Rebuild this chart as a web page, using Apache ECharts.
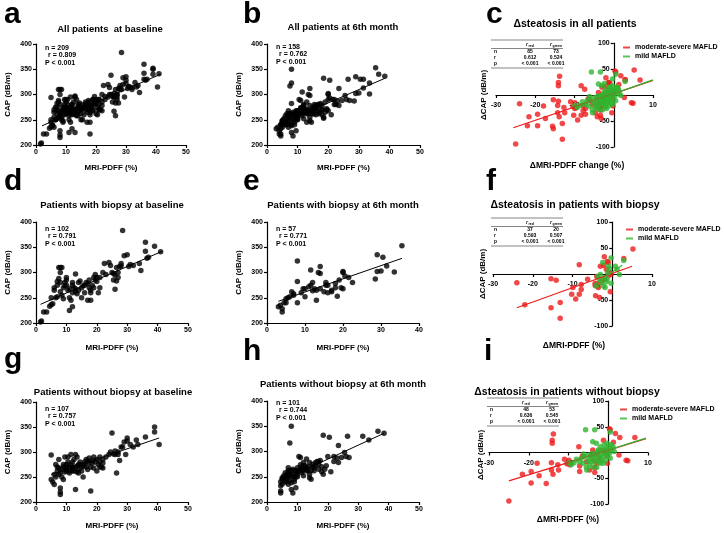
<!DOCTYPE html>
<html><head><meta charset="utf-8">
<script src="https://cdn.jsdelivr.net/npm/echarts@6/dist/echarts.min.js"></script>
<style>html,body{margin:0;padding:0;background:#fff}#chart{width:724px;height:533px}</style>
</head><body><div id="chart"></div>
<script>
// ---------- DATA (x = MRI-PDFF %, y = CAP dB/m) ----------
// Patients with biopsy at baseline (d)
const biopsyBaseline = [[1.5,202],[1.8,204],[2.5,222],[3.5,222],[4.5,233],[5,236],[5.5,238],[5,250],[6,265],[6.5,250],[7,252],[7,275],[7,282],[7.5,288],[7.5,310],[8,310],[8.5,310],[8,300],[8,262],[8.5,255],[9,248],[9,270],[9.5,280],[10,290],[10,285],[10.5,265],[11,225],[11,250],[11.5,245],[12,232],[12,260],[12,275],[12.5,270],[13,262],[13,297],[13.5,258],[14,265],[14,280],[15,270],[15,250],[16,275],[16,260],[16.5,280],[17,245],[17.5,270],[17.5,285],[18,245],[18,260],[18.5,275],[19,270],[19,290],[19.5,285],[20,290],[20,282],[20.5,260],[21,270],[21,290],[22,300],[22.5,318],[24,320],[25,300],[25.5,285],[26,267],[26,295],[26.5,310],[27,300],[27,290],[27.5,312],[28,318],[28.5,383],[29,333],[30,335],[30.5,312],[31,316],[34,318],[34.5,304],[36,360],[36,342],[36.5,328],[37,330],[39,352],[41,341],[26.5,283],[25.5,298],[28,313],[18,265],[15.5,274],[13,268],[11,268],[9.5,274],[8,280],[6,270],[10,275],[12,280],[14.5,283],[17,278],[19.5,296],[23,296],[24.5,314],[32,314]];
// Patients without biopsy at baseline (g)
const noBiopsyBaseline = [[5,294],[5,245],[5.5,240],[6,235],[6,255],[6.5,250],[7,262],[7,270],[7.5,285],[7.5,255],[8,220],[8,215],[8,228],[8.5,250],[8.5,265],[9,245],[9,275],[9.5,260],[9.5,290],[10,265],[10,270],[10.5,280],[10.5,290],[11,258],[11,270],[11.5,275],[11.5,295],[12,262],[12,268],[12,280],[12.5,285],[13,225],[13,295],[13,270],[13.5,260],[13.5,290],[14,275],[14,265],[14.5,280],[15,270],[15,262],[15.5,250],[16,275],[16,280],[16.5,285],[17,265],[17,282],[17.5,288],[18,222],[18,270],[18.5,278],[19,268],[19,290],[19.5,280],[20,262],[20,285],[20.5,275],[21,290],[21,280],[21.5,270],[22,278],[22,285],[23,290],[24,295],[24.5,300],[25,338],[25.5,296],[26,295],[26,302],[26.5,258],[27,300],[27,295],[27.5,283],[28,310],[28.5,310],[29,320],[29.5,295],[30,328],[30,322],[31,315],[32,310],[33,324],[33.5,315],[36,330],[39,350],[39,340],[40.5,315],[7.5,268],[9,270],[10,275],[11,262],[12,270],[13.5,272],[14.5,275],[15.5,272],[16.5,270],[17.5,278],[18.5,283],[6.5,275],[8,258],[10,262],[12.5,262],[14,258],[21,270],[22,268]];
// Patients with biopsy at 6th month (e)
const biopsyMonth6 = [[3,232],[3.5,235],[4,222],[4,228],[4.5,240],[5,248],[5,240],[5.5,250],[6,252],[7,258],[7,255],[8,240],[8,282],[8,323],[9,260],[9.5,268],[10,252],[10,268],[11,272],[11.5,305],[11.5,275],[12,280],[12.5,268],[13,245],[13,265],[13.5,300],[14,312],[14,298],[14,268],[15,262],[15.5,280],[15.5,275],[16,275],[16,260],[17,265],[18,270],[18,278],[18.5,253],[19,285],[19.5,270],[20,300],[20,302],[20,268],[20.5,293],[21.5,290],[22.5,280],[28.5,287],[29,335],[29,302],[30,303],[30.5,330],[31.5,313],[33.5,301],[35.5,353],[12,264],[17,262],[6.5,262]];
// Patients without biopsy at 6th month (h)
const noBiopsyMonth6 = [[4.5,240],[4.5,232],[4.5,222],[4.5,218],[5,245],[5,235],[5.5,248],[5.5,252],[6,240],[6,245],[6.5,250],[6.5,255],[7,255],[7,262],[7,248],[7,268],[7.5,242],[7.5,317],[7.5,258],[8,350],[8,238],[8,225],[8,262],[8.5,265],[8.5,218],[9,245],[9,255],[9.5,250],[9.5,228],[10,260],[10,268],[10,255],[10.5,290],[11,288],[11,265],[11.5,270],[11.5,258],[12,272],[12,278],[12,252],[12.5,265],[13,262],[13,285],[13.5,270],[14,255],[14,248],[14.5,245],[14.5,262],[15,270],[15,275],[15.5,268],[16,278],[16.5,280],[17,275],[17,265],[17.5,282],[18,260],[18,270],[18.5,332],[18.5,255],[19,265],[19.5,272],[20,290],[20.5,328],[21,260],[22,290],[22,280],[23,287],[23.5,312],[23.5,278],[24.5,288],[25.5,298],[26,290],[26.5,330],[27,288],[31.5,330],[33.5,323],[36.5,340],[38.5,336],[6,258],[7.5,262],[8.5,250],[9,262],[9.5,262],[10.5,262],[11,274],[12.5,272],[13.5,262],[14,278],[15.5,262],[16,272],[17,280],[5,248],[6.5,240],[7,235],[8,252],[11.5,262],[12,266],[13,268],[10,250],[9,240]];
// Δ values (x = ΔMRI-PDFF %, y = ΔCAP dB/m)
const biopsyDeltaRed = [[-24,-17],[-22,-59],[-15.4,-9],[-15.4,-65],[-14.1,-12],[-13.1,-55],[-13.1,-85],[-8.3,18],[-9.9,-26],[-10.2,-39],[-9.2,-48],[-8.3,-39],[-7.8,-30],[-7.8,-20],[-6.2,-10],[-4.3,-18],[-4.3,-22],[-4.2,-42],[-3.7,-23],[-3.5,-26],[-3.2,-45],[-3.4,-18],[-3,15],[-2,33],[-2.2,17],[-1.3,24],[-1,22],[-1.5,9],[-0.5,-34],[-0.3,0],[2.9,30],[5.2,48],[-1.9,-10],[-2.6,-13],[-0.7,3],[-3.9,-5],[-0.9,-3]];
const biopsyDeltaGreen = [[-4,-23],[-3.7,-5],[-3.2,-10],[-3,-1],[-2.7,-17],[-2.4,22],[-2.2,-23],[-2,-7],[-1.8,-26],[-1.5,-15],[-1.2,3],[-0.9,15],[-0.7,10],[-0.3,31],[0.8,15],[1.2,9],[1.8,-1],[2.9,26],[-1.3,-10],[-0.3,-18]];
const noBiopsyDeltaRed = [[-25,-94],[-21.6,-42],[-19.4,-37],[-19.4,-59],[-17.9,-21],[-17.4,-45],[-15.6,-60],[-14.3,-20],[-14.3,-34],[-13.9,-42],[-13.8,36],[-14.1,24],[-14.1,18],[-12.7,-24],[-12.5,-34],[-11,-13],[-10.4,-22],[-9.9,-15],[-9.7,-24],[-7.4,11],[-7.2,-26],[-7.2,-37],[-6.5,-7],[-4.3,-6],[-3.9,5],[-3.7,-15],[-3.4,-29],[-3.4,-39],[-2.9,-21],[-2.3,-11],[-2,4],[-1.2,24],[-0.5,2],[-0.3,-7],[-0.2,-21],[0.3,46],[0.5,44],[1.3,20],[1.8,37],[2.7,-5],[2.9,29],[4.5,-15],[4.9,-16],[6.7,29],[-4.7,-34],[-5.5,-18],[-0.9,5],[-2.9,-3]];
const noBiopsyDeltaGreen = [[-5.7,44],[-3.4,44],[-3.9,21],[-3,18],[0.5,40],[-8.6,-20],[-8,-13],[-6.8,-11],[-6.4,-21],[-6,-8],[-5.5,-28],[-5.4,-34],[-5.1,-16],[-4.9,-5],[-4.7,-24],[-4.5,-11],[-4.3,-18],[-4,-2],[-3.9,-28],[-3.7,-8],[-3.4,-18],[-3.2,-3],[-3,-11],[-2.9,-29],[-2.6,2],[-2.3,-8],[-2.2,-18],[-2,11],[-1.8,-3],[-1.6,-13],[-1.3,5],[-1.2,-7],[-1,15],[-0.8,-16],[-0.7,-2],[-0.5,8],[-0.3,18],[-0.2,-8],[0,4],[0.2,11],[0.3,-2],[0.7,15],[0.9,6],[1.2,11],[1.5,2],[-9.9,-20],[-9.3,-24],[-7.2,-18],[-6.2,-3],[-2,-21],[-2.5,5],[0.5,-11],[-1.3,-21]];
// Regression line endpoints
const fitA = [[2,238],[41.5,340]];
const fitB = [[3.5,240],[38.5,332]];
const fitD = [[1.5,237],[41.5,342]];
const fitE = [[3,243],[35.5,328]];
const fitG = [[5,255],[40.5,328]];
const fitH = [[4.5,242],[38.5,336]];
const fitCRed = [[-25.6,-63],[10,28]];
const fitCGreen = [[-10,-24],[10,29]];
const fitFRed = [[-24,-65],[5,15]];
const fitFGreen = [[-4.5,-20],[2.5,17]];
const fitIRed = [[-25,-55],[9.5,27]];
const fitIGreen = [[-10,-20],[9.5,28]];
// Texts
const letters = ['a','b','c','d','e','f','g','h','i'];
const titles = ['All patients  at baseline','All patients at 6th month','\u0394steatosis in all patients','Patients with biopsy at baseline','Patients with biopsy at 6th month','\u0394steatosis in patients with biopsy','Patients without biopsy at baseline','Patients without biopsy at 6th month','\u0394steatosis in patients without biopsy'];
const statN = {a:209,b:158,d:102,e:57,g:107,h:101};
const statR = {a:'0.809',b:'0.762',d:'0.791',e:'0.771',g:'0.757',h:'0.744'};
const tableN = {c:[85,73],f:[37,20],i:[48,53]};
const tableR = {c:['0.612','0.524'],f:['0.593','0.507'],i:['0.636','0.545']};
const tableP = ['< 0.001','< 0.001'];
const legendNames = ['moderate-severe MAFLD','mild MAFLD'];

// ---------- derived sets ----------
const allBaseline = biopsyBaseline.concat(noBiopsyBaseline);
const allMonth6 = biopsyMonth6.concat(noBiopsyMonth6);
const allDeltaRed = biopsyDeltaRed.concat(noBiopsyDeltaRed);
const allDeltaGreen = biopsyDeltaGreen.concat(noBiopsyDeltaGreen);

// ---------- layout ----------
const FONT = '"Liberation Sans", Arial, Helvetica, sans-serif';
const RED = '#ee1c1c', GREEN = '#2fb52f';
const L = {
  a:{grid:{left:36,top:44,width:150,height:101},xmax:50,xGap:19},
  b:{grid:{left:267,top:44,width:153,height:101},xmax:50,xGap:19},
  c:{grid:{left:496,top:43,width:157,height:104}},
  d:{grid:{left:36,top:222,width:152,height:101},xmax:50,xGap:21},
  e:{grid:{left:267,top:222,width:152,height:101},xmax:40,xGap:21},
  f:{grid:{left:493,top:222,width:159,height:104}},
  g:{grid:{left:36,top:402,width:152,height:100},xmax:50,xGap:20},
  h:{grid:{left:267,top:401,width:152,height:101},xmax:50,xGap:20},
  i:{grid:{left:489,top:401,width:159,height:103}}
};
const order = ['a','b','c','d','e','f','g','h','i'];
const scatterSets = {a:allBaseline,b:allMonth6,d:biopsyBaseline,e:biopsyMonth6,g:noBiopsyBaseline,h:noBiopsyMonth6};
const fits = {a:fitA,b:fitB,d:fitD,e:fitE,g:fitG,h:fitH};
const deltaSets = {c:[allDeltaRed,allDeltaGreen,fitCRed,fitCGreen],f:[biopsyDeltaRed,biopsyDeltaGreen,fitFRed,fitFGreen],i:[noBiopsyDeltaRed,noBiopsyDeltaGreen,fitIRed,fitIGreen]};
const DX = [-30,10], DY = [-100,100];

const axisLine = {lineStyle:{color:'#000',width:1.2}};
const axisTick = {length:3,lineStyle:{color:'#000',width:1.2}};
const labelStyle = {color:'#000',fontSize:7,fontWeight:'bold',fontFamily:FONT};

const grid=[],xAxis=[],yAxis=[],series=[],graphic=[];
function txt(x,y,text,size,align,extra){
  return Object.assign({type:'text',x:x,y:y,silent:true,style:{text:text,fill:'#000',fontSize:size,fontWeight:'bold',fontFamily:FONT,
    textAlign:align||'left',textVerticalAlign:'middle',align:align||'left',verticalAlign:'middle'}},extra||{});
}
order.forEach((k,idx)=>{
  const lay = L[k];
  grid.push(Object.assign({containLabel:false},lay.grid));
  const isDelta = !!deltaSets[k];
  if(!isDelta){
    xAxis.push({type:'value',gridIndex:idx,min:0,max:lay.xmax,interval:10,splitLine:{show:false},axisLine:axisLine,axisTick:axisTick,
      axisLabel:Object.assign({margin:4},labelStyle),name:'MRI-PDFF (%)',nameLocation:'middle',nameGap:lay.xGap,
      nameTextStyle:{color:'#000',fontSize:8,fontWeight:'bold',fontFamily:FONT}});
    yAxis.push({type:'value',gridIndex:idx,min:200,max:400,interval:50,splitLine:{show:false},axisLine:axisLine,axisTick:axisTick,
      axisLabel:Object.assign({margin:4},labelStyle),name:'CAP (dB/m)',nameLocation:'middle',nameGap:24,
      nameTextStyle:{color:'#000',fontSize:8,fontWeight:'bold',fontFamily:FONT}});
    series.push({type:'scatter',xAxisIndex:idx,yAxisIndex:idx,data:scatterSets[k],symbolSize:5.5,itemStyle:{color:'#000'},silent:true});
    series.push({type:'line',xAxisIndex:idx,yAxisIndex:idx,data:fits[k],symbol:'none',lineStyle:{color:'#000',width:1},silent:true});
  } else {
    // place the axes through zero by offsetting them inward from the grid edges
    const xOff = -lay.grid.height*(0-DY[0])/(DY[1]-DY[0]);
    const yOff = -lay.grid.width*(0-DX[0])/(DX[1]-DX[0]);
    xAxis.push({type:'value',gridIndex:idx,min:DX[0],max:DX[1],interval:10,position:'bottom',offset:xOff,splitLine:{show:false},
      axisLine:Object.assign({onZero:false},axisLine),axisTick:axisTick,
      axisLabel:Object.assign({margin:7,formatter:v=>v===0?'':String(v)},labelStyle)});
    yAxis.push({type:'value',gridIndex:idx,min:DY[0],max:DY[1],interval:50,position:'left',offset:yOff,splitLine:{show:false},
      axisLine:Object.assign({onZero:false},axisLine),axisTick:axisTick,
      axisLabel:Object.assign({margin:4,formatter:v=>v===0?'':String(v)},labelStyle)});
    const ds = deltaSets[k];
    series.push({type:'scatter',name:legendNames[0],xAxisIndex:idx,yAxisIndex:idx,data:ds[0],symbolSize:5.5,itemStyle:{color:RED},silent:true});
    series.push({type:'scatter',name:legendNames[1],xAxisIndex:idx,yAxisIndex:idx,data:ds[1],symbolSize:5.5,itemStyle:{color:GREEN},silent:true});
    series.push({type:'line',xAxisIndex:idx,yAxisIndex:idx,data:ds[2],symbol:'none',lineStyle:{color:RED,width:1.2},silent:true});
    series.push({type:'line',xAxisIndex:idx,yAxisIndex:idx,data:ds[3],symbol:'none',lineStyle:{color:GREEN,width:1.2},silent:true});
  }
});

// panel letters
const letterPos = {a:[4,15],b:[243,15],c:[486,15],d:[4,182],e:[243,182],f:[486,182],g:[4,360],h:[243,352],i:[484,352]};
order.forEach(k=>graphic.push(txt(letterPos[k][0],letterPos[k][1],k,30,'left')));
// titles
const titlePos = {a:[110,29],b:[343,27],c:[575,24],d:[112,205],e:[343,205],f:[575,205],g:[113,392],h:[343,384],i:[567,392]};
order.forEach((k,i)=>graphic.push(txt(titlePos[k][0],titlePos[k][1],titles[i],k==='c'||k==='f'||k==='i'?10.5:9.5,'center')));
// stats
const statPos = {a:[45,48],b:[276,47],d:[45,229],e:[276,229],g:[45,409],h:[276,403]};
Object.keys(statPos).forEach(k=>{
  const [x,y]=statPos[k];
  graphic.push(txt(x,y,'n = '+statN[k],7,'left'));
  graphic.push(txt(x+3,y+7.5,'r = '+statR[k],7,'left'));
  graphic.push(txt(x,y+15,'P < 0.001',7,'left'));
});
// delta axis labels
graphic.push(txt(484,95,'\u0394CAP (dB/m)',8,'center',{rotation:Math.PI/2}));
graphic.push(txt(483,274,'\u0394CAP (dB/m)',8,'center',{rotation:Math.PI/2}));
graphic.push(txt(481,455,'\u0394CAP (dB/m)',8,'center',{rotation:Math.PI/2}));
graphic.push(txt(577,166,'\u0394MRI-PDFF change (%)',8.5,'center'));
graphic.push(txt(574,346,'\u0394MRI-PDFF (%)',8.5,'center'));
graphic.push(txt(568,520,'\u0394MRI-PDFF (%)',8.5,'center'));
// tables
const tablePos = {c:[491,40],f:[491,218],i:[487,398]};
Object.keys(tablePos).forEach(k=>{
  const [x0,y0]=tablePos[k]; const w=72;
  const line=(y,xa,xb)=>({type:'line',silent:true,shape:{x1:xa,y1:y,x2:xb,y2:y},style:{stroke:'#666',lineWidth:0.8}});
  graphic.push(line(y0,x0,x0+w));
  graphic.push(line(y0+8.5,x0,x0+w));
  graphic.push(line(y0+28,x0,x0+w));
  const c1=x0+39,c2=x0+65,lx=x0+3;
  const rStyle={fill:'#000',fontSize:5,fontStyle:'italic',fontWeight:'bold',fontFamily:FONT,textAlign:'center',align:'center',textVerticalAlign:'middle',verticalAlign:'middle'};
  graphic.push({type:'text',x:c1-3,y:y0+5,silent:true,style:Object.assign({text:'r'},rStyle)});
  graphic.push(txt(c1-1.5,y0+6,'red',3.5,'left'));
  graphic.push({type:'text',x:c2-5,y:y0+5,silent:true,style:Object.assign({text:'r'},rStyle)});
  graphic.push(txt(c2-3.5,y0+6,'green',3.5,'left'));
  graphic.push(txt(lx,y0+12,'n',5,'left'));
  graphic.push(txt(lx,y0+18,'r',5,'left'));
  graphic.push(txt(lx,y0+23.5,'p',5,'left'));
  graphic.push(txt(c1,y0+12,String(tableN[k][0]),5,'center'));
  graphic.push(txt(c2,y0+12,String(tableN[k][1]),5,'center'));
  graphic.push(txt(c1,y0+18,tableR[k][0],5,'center'));
  graphic.push(txt(c2,y0+18,tableR[k][1],5,'center'));
  graphic.push(txt(c1,y0+23.5,tableP[0],5,'center'));
  graphic.push(txt(c2,y0+23.5,tableP[1],5,'center'));
});

const legendPos = [[623,44],[626,226],[620,406]];
const legend = legendPos.map(p=>({left:p[0],top:p[1],orient:'vertical',padding:0,itemWidth:7,itemHeight:2,itemGap:2,selectedMode:false,
  data:[{name:legendNames[0],icon:'rect'},{name:legendNames[1],icon:'rect'}],
  textStyle:{color:'#000',fontSize:7,fontWeight:'bold',fontFamily:FONT}}));

const chart = echarts.init(document.getElementById('chart'),null,{renderer:'canvas'});
chart.setOption({backgroundColor:'#fff',animation:false,grid,xAxis,yAxis,series,legend,graphic});
</script></body></html>
